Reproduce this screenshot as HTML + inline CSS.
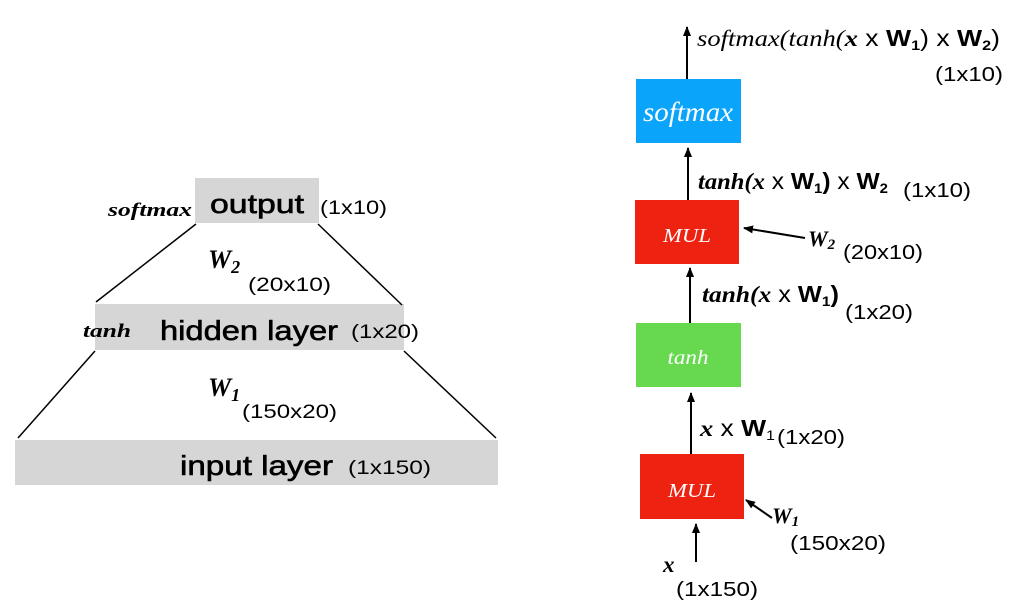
<!DOCTYPE html>
<html><head><meta charset="utf-8"><style>
html,body{margin:0;padding:0;background:#fff;}
svg{display:block}
.s{font-family:"Liberation Sans",sans-serif;}
.r{font-family:"Liberation Serif",serif;}
</style></head><body>
<svg width="1010" height="610" viewBox="0 0 1010 610" xmlns="http://www.w3.org/2000/svg">
<defs><marker id="a" markerWidth="10" markerHeight="10" refX="9" refY="5" orient="auto" markerUnits="userSpaceOnUse"><path d="M0,1 L10,5 L0,9 z" fill="#000"/></marker></defs>
<!-- left -->
<rect x="195" y="178" width="124" height="45" fill="#d6d6d6"/>
<rect x="95" y="304" width="309" height="46" fill="#d6d6d6"/>
<rect x="15" y="440" width="483" height="45" fill="#d6d6d6"/>
<g stroke="#000" stroke-width="1.5">
<line x1="196" y1="224" x2="96" y2="302"/><line x1="318" y1="224" x2="402" y2="305"/>
<line x1="95" y1="351" x2="18" y2="438"/><line x1="404" y1="351" x2="496" y2="438"/>
</g>
<g stroke="#000" stroke-width="0.6">
<text x="210" y="213" class="s" font-size="27" textLength="94" lengthAdjust="spacingAndGlyphs">output</text>
<text x="160" y="340" class="s" font-size="28" textLength="178" lengthAdjust="spacingAndGlyphs">hidden layer</text>
<text x="180" y="475" class="s" font-size="28" textLength="153" lengthAdjust="spacingAndGlyphs">input layer</text>
</g>
<text x="108" y="216" class="r" font-size="19" font-weight="bold" font-style="italic" textLength="84" lengthAdjust="spacingAndGlyphs">softmax</text>
<text x="320" y="214" class="s" font-size="19" textLength="67" lengthAdjust="spacingAndGlyphs">(1x10)</text>
<text x="208" y="268" class="r" font-size="26" font-weight="bold" font-style="italic">W<tspan font-size="18" dy="5">2</tspan></text>
<text x="248" y="291" class="s" font-size="19" textLength="83" lengthAdjust="spacingAndGlyphs">(20x10)</text>
<text x="83" y="337" class="r" font-size="19" font-weight="bold" font-style="italic" textLength="48" lengthAdjust="spacingAndGlyphs">tanh</text>
<text x="351" y="338" class="s" font-size="19" textLength="68" lengthAdjust="spacingAndGlyphs">(1x20)</text>
<text x="208" y="396" class="r" font-size="26" font-weight="bold" font-style="italic">W<tspan font-size="18" dy="5">1</tspan></text>
<text x="242" y="418" class="s" font-size="19" textLength="95" lengthAdjust="spacingAndGlyphs">(150x20)</text>
<text x="348" y="474" class="s" font-size="19" textLength="83" lengthAdjust="spacingAndGlyphs">(1x150)</text>
<!-- right -->
<rect x="636" y="79" width="105" height="64" fill="#0aa5fb"/>
<rect x="635" y="200" width="104" height="64" fill="#ee2211"/>
<rect x="636" y="323" width="105" height="64" fill="#66d94f"/>
<rect x="640" y="454" width="104" height="65" fill="#ee2211"/>
<text x="688" y="121" text-anchor="middle" class="r" font-size="27" font-style="italic" fill="#fff" textLength="90" lengthAdjust="spacingAndGlyphs">softmax</text>
<text x="687" y="242" text-anchor="middle" class="r" font-size="20" font-style="italic" fill="#fff" textLength="48" lengthAdjust="spacingAndGlyphs">MUL</text>
<text x="688" y="364" text-anchor="middle" class="r" font-size="20" font-style="italic" fill="#fff" textLength="41" lengthAdjust="spacingAndGlyphs">tanh</text>
<text x="692" y="497" text-anchor="middle" class="r" font-size="20" font-style="italic" fill="#fff" textLength="48" lengthAdjust="spacingAndGlyphs">MUL</text>
<g stroke="#000" stroke-width="2" marker-end="url(#a)">
<line x1="687" y1="79" x2="687" y2="27"/>
<line x1="688" y1="200" x2="688" y2="148"/>
<line x1="690" y1="323" x2="690" y2="268"/>
<line x1="691" y1="454" x2="691" y2="393"/>
<line x1="696" y1="562" x2="696" y2="524"/>
<line x1="805" y1="238" x2="744" y2="228"/>
<line x1="772" y1="518" x2="746" y2="500"/>
</g>
<text x="697" y="46" font-size="23" textLength="303" lengthAdjust="spacingAndGlyphs"><tspan class="r" font-style="italic">softmax(tanh(</tspan><tspan class="r" font-style="italic" font-weight="bold">x</tspan><tspan class="s"> x </tspan><tspan class="s" font-weight="bold">W</tspan><tspan class="s" font-weight="bold" font-size="14" dy="4">1</tspan><tspan class="s" dy="-4">) x </tspan><tspan class="s" font-weight="bold">W</tspan><tspan class="s" font-weight="bold" font-size="14" dy="4">2</tspan><tspan class="s" dy="-4">)</tspan></text>
<text x="935" y="81" class="s" font-size="20" textLength="68" lengthAdjust="spacingAndGlyphs">(1x10)</text>
<text x="698" y="189" font-size="23" font-weight="bold" textLength="190" lengthAdjust="spacingAndGlyphs"><tspan class="r" font-style="italic">tanh(x</tspan><tspan class="s" font-weight="normal"> x </tspan><tspan class="s">W</tspan><tspan class="s" font-size="14" dy="4">1</tspan><tspan class="s" dy="-4">)</tspan><tspan class="s" font-weight="normal"> x </tspan><tspan class="s">W</tspan><tspan class="s" font-size="14" dy="4">2</tspan></text>
<text x="903" y="197" class="s" font-size="20" textLength="68" lengthAdjust="spacingAndGlyphs">(1x10)</text>
<text x="808" y="246" class="r" font-size="22" font-weight="bold" font-style="italic">W<tspan font-size="15" dy="3">2</tspan></text>
<text x="843" y="259" class="s" font-size="20" textLength="80" lengthAdjust="spacingAndGlyphs">(20x10)</text>
<text x="702" y="302" font-size="23" font-weight="bold" textLength="137" lengthAdjust="spacingAndGlyphs"><tspan class="r" font-style="italic">tanh(x</tspan><tspan class="s" font-weight="normal"> x </tspan><tspan class="s">W</tspan><tspan class="s" font-size="14" dy="4">1</tspan><tspan class="s" dy="-4">)</tspan></text>
<text x="845" y="319" class="s" font-size="20" textLength="68" lengthAdjust="spacingAndGlyphs">(1x20)</text>
<text x="700" y="436" font-size="23" textLength="75" lengthAdjust="spacingAndGlyphs"><tspan class="r" font-style="italic" font-weight="bold">x</tspan><tspan class="s"> x </tspan><tspan class="s" font-weight="bold">W</tspan><tspan class="s" font-size="14" dy="4">1</tspan></text>
<text x="777" y="444" class="s" font-size="20" textLength="68" lengthAdjust="spacingAndGlyphs">(1x20)</text>
<text x="772" y="523" class="r" font-size="22" font-weight="bold" font-style="italic">W<tspan font-size="15" dy="3">1</tspan></text>
<text x="790" y="550" class="s" font-size="20" textLength="96" lengthAdjust="spacingAndGlyphs">(150x20)</text>
<text x="663" y="572" class="r" font-size="23" font-weight="bold" font-style="italic">x</text>
<text x="676" y="596" class="s" font-size="20" textLength="82" lengthAdjust="spacingAndGlyphs">(1x150)</text>
</svg>
</body></html>
